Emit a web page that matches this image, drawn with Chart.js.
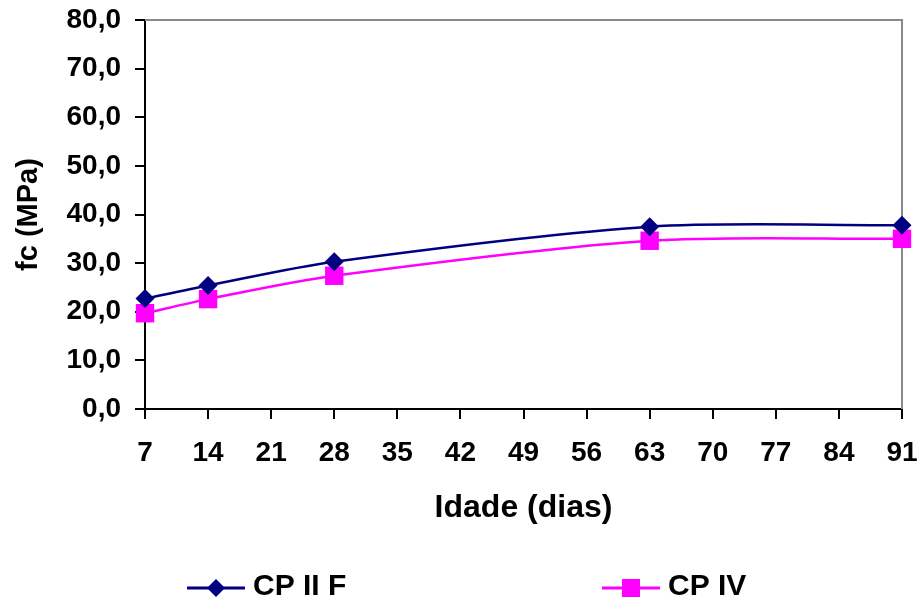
<!DOCTYPE html>
<html>
<head>
<meta charset="utf-8">
<script src="https://cdn.jsdelivr.net/npm/chart.js@4.4.1/dist/chart.umd.min.js"></script>
<style>
  html, body { margin: 0; padding: 0; background: #fff; }
  #wrap { width: 918px; height: 603px; }
</style>
</head>
<body>
<div id="wrap"><canvas id="chart" width="918" height="603"></canvas></div>
<script>
// fc x idade — CP II F / CP IV

const ages = [7, 14, 28, 63, 91];
const cpIIF = [22.7, 25.4, 30.3, 37.5, 37.8];
const cpIV = [19.7, 22.6, 27.4, 34.6, 35.0];
const seriesNames = ['CP II F', 'CP IV'];
const xTicks = [7, 14, 21, 28, 35, 42, 49, 56, 63, 70, 77, 84, 91];
const yTicks = [0, 10, 20, 30, 40, 50, 60, 70, 80];

const FONT = 'Liberation Sans, Arial, sans-serif';
const NAVY = '#000080';
const MAGENTA = '#ff00ff';

function fmtTick(v) {
    return Number(v).toFixed(1).replace('.', ',');
}

// ---------- plot frame (gray top/right) ----------
const framePlugin = {
    id: 'frame',
    beforeDatasetsDraw(chart) {
        const { ctx, chartArea: a } = chart;
        ctx.save();
        ctx.strokeStyle = '#8a8a8a';
        ctx.lineWidth = 2;
        ctx.beginPath();
        ctx.moveTo(a.left, a.top);
        ctx.lineTo(a.right, a.top);
        ctx.lineTo(a.right, a.bottom);
        ctx.stroke();
        ctx.restore();
    }
};

// ---------- legend (line + marker + name) ----------
function drawMarker(ctx, style, x, y, color) {
    ctx.fillStyle = color;
    ctx.beginPath();
    if (style === 'rectRot') {
        ctx.moveTo(x, y - 9);
        ctx.lineTo(x + 9, y);
        ctx.lineTo(x, y + 9);
        ctx.lineTo(x - 9, y);
        ctx.closePath();
    } else {
        ctx.rect(x - 9, y - 9, 18, 18);
    }
    ctx.fill();
}

const legendPlugin = {
    id: 'excelLegend',
    afterDraw(chart) {
        const ctx = chart.ctx;
        const items = [
            { x: 187, color: NAVY, style: 'rectRot' },
            { x: 602, color: MAGENTA, style: 'rect' }
        ];
        const y = 588;
        ctx.save();
        items.forEach((it, i) => {
            ctx.strokeStyle = it.color;
            ctx.lineWidth = 3;
            ctx.beginPath();
            ctx.moveTo(it.x, y);
            ctx.lineTo(it.x + 58, y);
            ctx.stroke();
            drawMarker(ctx, it.style, it.x + 29, y, it.color);
            ctx.fillStyle = '#000';
            ctx.font = 'bold 30px ' + FONT;
            ctx.textBaseline = 'middle';
            ctx.textAlign = 'left';
            ctx.fillText(seriesNames[i], it.x + 66, y - 1);
        });
        ctx.restore();
    }
};

new Chart(document.getElementById('chart'), {
    type: 'line',
    data: {
        datasets: [
            {
                label: seriesNames[0],
                data: ages.map((a, i) => ({ x: a, y: cpIIF[i] })),
                borderColor: NAVY,
                backgroundColor: NAVY,
                borderWidth: 2.5,
                pointStyle: 'rectRot',
                pointRadius: 9.5,
                pointHoverRadius: 9.5,
                pointBorderWidth: 0,
                tension: 0.3,
                clip: false
            },
            {
                label: seriesNames[1],
                data: ages.map((a, i) => ({ x: a, y: cpIV[i] })),
                borderColor: MAGENTA,
                backgroundColor: MAGENTA,
                borderWidth: 2.5,
                pointStyle: 'rect',
                pointRadius: 13,
                pointHoverRadius: 13,
                pointBorderWidth: 0,
                tension: 0.3,
                clip: false
            }
        ]
    },
    options: {
        responsive: false,
        animation: false,
        devicePixelRatio: 1,
        layout: { padding: { left: 0, right: 16, top: 20, bottom: 76 } },
        plugins: {
            legend: { display: false },
            tooltip: { enabled: false }
        },
        scales: {
            x: {
                type: 'linear',
                min: 7,
                max: 91,
                afterBuildTicks: s => { s.ticks = xTicks.map(v => ({ value: v })); },
                afterFit: s => { s.height = 118; s.paddingLeft = 0; s.paddingRight = 0; },
                ticks: {
                    color: '#000',
                    font: { family: FONT, size: 28, weight: 'bold' },
                    padding: 17,
                    maxRotation: 0,
                    autoSkip: false
                },
                grid: { drawOnChartArea: false, drawTicks: true, tickLength: 10, color: '#000', lineWidth: 2 },
                border: { display: true, color: '#000', width: 2 },
                title: {
                    display: true,
                    text: 'Idade (dias)',
                    color: '#000',
                    font: { family: FONT, size: 32, weight: 'bold' },
                    padding: { top: 0, bottom: 0 }
                }
            },
            y: {
                min: 0,
                max: 80,
                afterBuildTicks: s => { s.ticks = yTicks.map(v => ({ value: v })); },
                afterFit: s => { s.width = 145; s.paddingTop = 0; s.paddingBottom = 0; },
                ticks: {
                    color: '#000',
                    font: { family: FONT, size: 28, weight: 'bold' },
                    padding: 14,
                    callback: v => fmtTick(v)
                },
                grid: { drawOnChartArea: false, drawTicks: true, tickLength: 10, color: '#000', lineWidth: 2 },
                border: { display: true, color: '#000', width: 2 },
                title: {
                    display: true,
                    text: 'fc (MPa)',
                    color: '#000',
                    font: { family: FONT, size: 29, weight: 'bold' },
                    padding: { top: 12, bottom: 0 }
                }
            }
        }
    },
    plugins: [framePlugin, legendPlugin]
});
</script>
</body>
</html>
